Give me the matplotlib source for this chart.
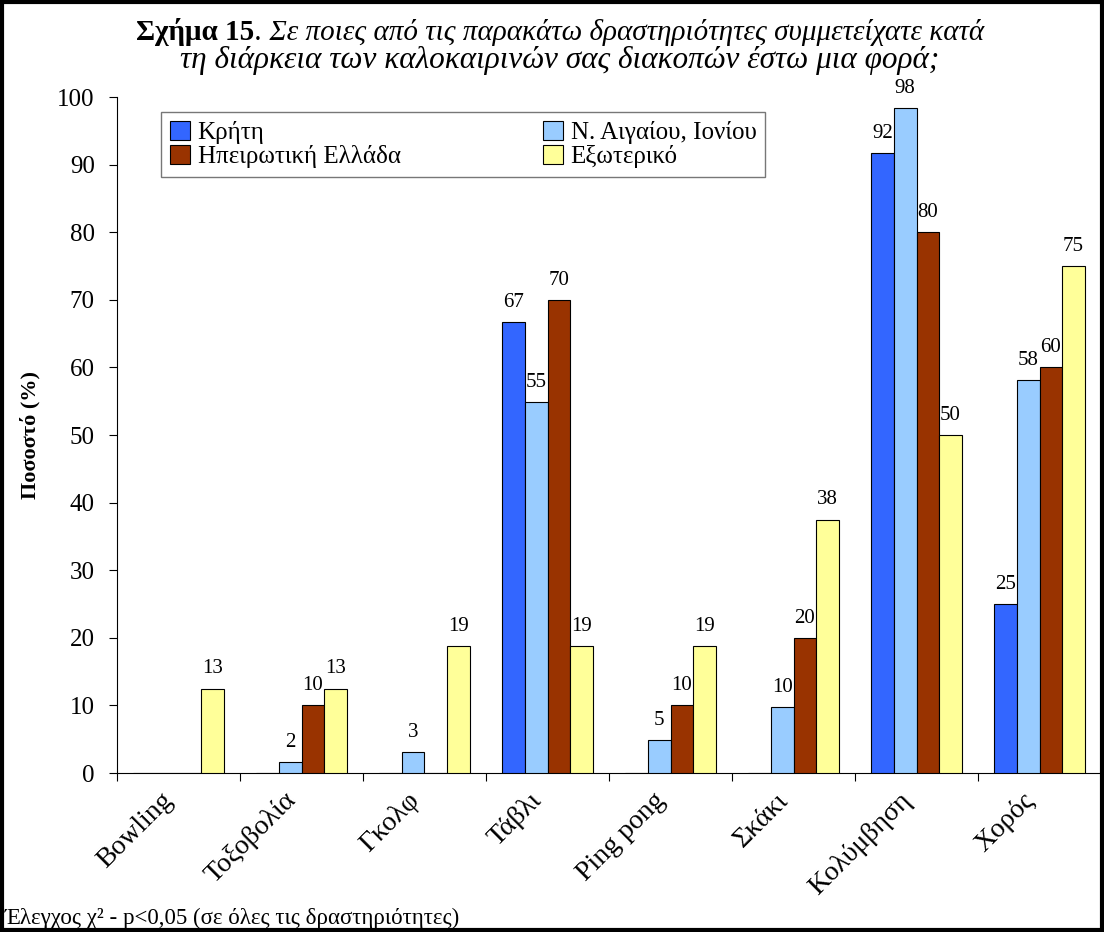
import matplotlib
matplotlib.use("Agg")
import matplotlib.pyplot as plt
import matplotlib.transforms as mtrans
import numpy as np
from matplotlib.patches import Rectangle

categories = ["Bowling", "Τοξοβολία", "Γκολφ", "Τάβλι", "Ping pong", "Σκάκι", "Κολύμβηση", "Χορός"]
series_names = ["Κρήτη", "Ν. Αιγαίου, Ιονίου", "Ηπειρωτική Ελλάδα", "Εξωτερικό"]
kriti = [0, 0, 0, 66.7, 0, 0, 91.7, 25]
aigaio = [0, 1.6, 3.1, 54.9, 4.9, 9.8, 98.4, 58.1]
ipeiros = [0, 10, 0, 70, 10, 20, 80, 60]
exoteriko = [12.5, 12.5, 18.8, 18.8, 18.8, 37.5, 50, 75]
colors = ["#3366FF", "#99CCFF", "#993300", "#FFFF99"]
yticks = [0, 10, 20, 30, 40, 50, 60, 70, 80, 90, 100]

plt.rcParams['font.family'] = ['Liberation Serif', 'DejaVu Serif']

fig = plt.figure(figsize=(11.04, 9.32), dpi=100)
ax = fig.add_axes([117/1104, 1-773/932, (1101-117)/1104, (773-97)/932])

x = np.arange(len(categories))
w = 0.183
data = [kriti, aigaio, ipeiros, exoteriko]
handles = []
for i, (vals, c, name) in enumerate(zip(data, colors, series_names)):
    pos = x + (i - 1.5) * w
    bars = ax.bar(pos, vals, width=w, color=c, edgecolor="black", linewidth=0.8, label=name, zorder=3)
    handles.append(bars)
    for p, v in zip(pos, vals):
        if v > 0:
            ax.text(p, v + 1.5, f"{int(v + 0.5):d}", ha="center", va="bottom", fontsize=15)

ax.set_xlim(-0.5, len(categories) - 0.5)
ax.set_ylim(0, 100)
ax.set_yticks(yticks)
ax.set_yticklabels([str(t) for t in yticks], fontsize=18)
ax.set_xticks(np.arange(len(categories) + 1) - 0.5)
ax.set_xticklabels([])
ax.tick_params(axis="x", length=6, direction="out")
ax.tick_params(axis="y", length=6, direction="out", pad=10)

# category labels, rotated
lbl_trans = ax.get_xaxis_transform() + mtrans.ScaledTranslation(-0.18, -0.15, fig.dpi_scale_trans)
for xi, cat in zip(x, categories):
    ax.text(xi, 0, cat, transform=lbl_trans, rotation=45, ha="right", va="top",
            rotation_mode="anchor", fontsize=20)

for s in ["top", "right"]:
    ax.spines[s].set_visible(False)
ax.spines["left"].set_linewidth(0.8)
ax.spines["bottom"].set_linewidth(0.8)
ax.set_ylabel("Ποσοστό (%)", fontsize=16, fontweight="bold")
ax.yaxis.set_label_coords(-0.078, 0.5)

leg_order = [0, 2, 1, 3]
leg = ax.legend([handles[i] for i in leg_order], [series_names[i] for i in leg_order],
                ncol=2, loc="upper left", bbox_to_anchor=(0.045, 0.978), borderaxespad=0,
                fontsize=18, frameon=True, fancybox=False, edgecolor="#555555",
                handlelength=0.8, handleheight=0.8, handletextpad=0.3, columnspacing=5.7,
                borderpad=0.35, labelspacing=0.05)
leg.get_frame().set_linewidth(1.0)

# Title: bold part + italic part
renderer = fig.canvas.get_renderer()
tfs = 21
t1a = fig.text(0, 0, "Σχήμα 15", fontsize=tfs, fontweight="bold")
t1b = fig.text(0, 0, ". Σε ποιες από τις παρακάτω δραστηριότητες συμμετείχατε κατά",
               fontsize=tfs, style="italic")
wa = t1a.get_window_extent(renderer).width
wb = t1b.get_window_extent(renderer).width
cx = 560
y1 = 932 - 40
xstart = cx - (wa + wb) / 2
t1a.set_position((xstart / 1104, y1 / 932))
t1b.set_position(((xstart + wa) / 1104, y1 / 932))
fig.text(cx / 1104, (932 - 68) / 932,
         "τη διάρκεια των καλοκαιρινών σας διακοπών έστω μια φορά;",
         fontsize=22.5, style="italic", ha="center")

fig.text(5 / 1104, 8 / 932, "Έλεγχος χ² - p<0,05 (σε όλες τις δραστηριότητες)", fontsize=16.5)

fig.patches.append(Rectangle((0.0015, 0.002), 0.997, 0.996, transform=fig.transFigure,
                             fill=False, edgecolor="black", linewidth=3))

fig.savefig("out.png", dpi=100)
